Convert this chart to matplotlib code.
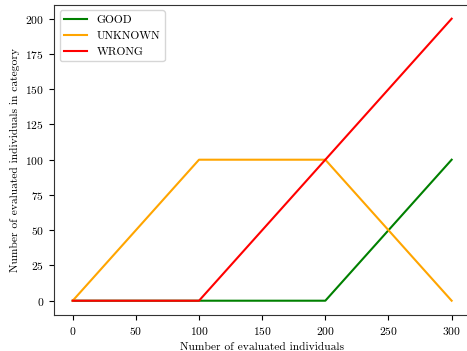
import matplotlib
matplotlib.use("Agg")
import matplotlib.pyplot as plt

plt.rcParams["font.family"] = "serif"
plt.rcParams["font.serif"] = ["cmr10"]
plt.rcParams["mathtext.fontset"] = "cm"
plt.rcParams["axes.formatter.use_mathtext"] = True
plt.rcParams["font.size"] = 8.3
plt.rcParams["axes.edgecolor"] = "#333333"

evaluated = [0, 100, 200, 300]
good = [0, 0, 0, 100]
unknown = [0, 100, 100, 0]
wrong = [0, 0, 100, 200]

fig, ax = plt.subplots(figsize=(4.67, 3.51), dpi=100)
ax.plot(evaluated, good, color="green", label="GOOD")
ax.plot(evaluated, unknown, color="orange", label="UNKNOWN")
ax.plot(evaluated, wrong, color="red", label="WRONG")
ax.set_xlabel("Number of evaluated individuals")
ax.set_ylabel("Number of evaluated individuals in category")
ax.set_xticks(range(0, 301, 50))
ax.set_yticks(range(0, 201, 25))
ax.legend(loc="upper left")
# right spine falls just past the edge of the saved image
ax.set_position([0.1151, 0.1031, 0.8926, 0.8838])
fig.savefig("out.png")
